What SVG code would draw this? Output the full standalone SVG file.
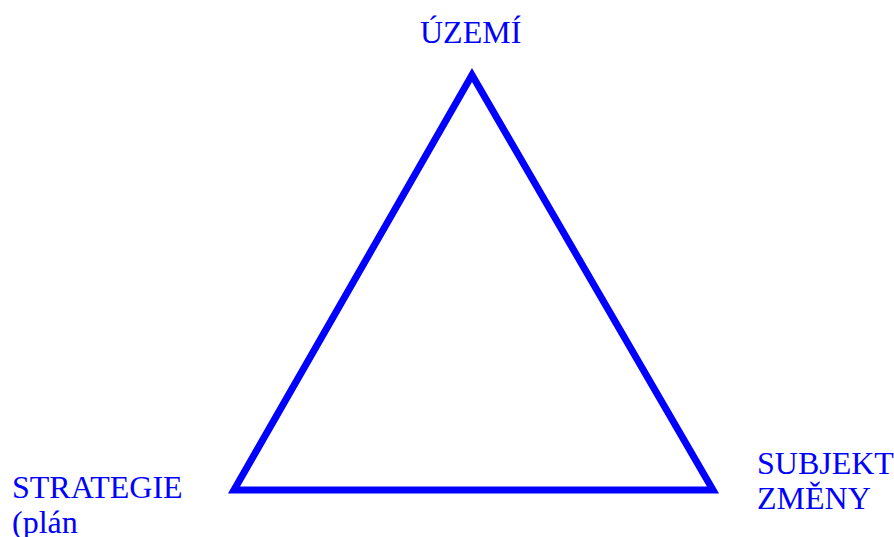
<svg xmlns="http://www.w3.org/2000/svg" width="894" height="537" viewBox="0 0 894 537">
<style>
.lbl{font-family:"Liberation Serif","Times New Roman",serif;font-size:32px;fill:#0000ff}
.edge{fill:none;stroke:#0000ff;stroke-width:7;stroke-linejoin:miter}
</style>
<rect width="894" height="537" fill="#ffffff"/>
<g id="connectors">
<polygon class="edge" points="472,75 234,490 713,490"/>
</g>
<g id="uzemi"><text class="lbl" x="420" y="43">ÚZEMÍ</text></g>
<g id="strategie"><text class="lbl" x="12" y="498">STRATEGIE</text><text class="lbl" x="12" y="533">(plán</text></g>
<g id="subjekt"><text class="lbl" x="757" y="474">SUBJEKT</text><text class="lbl" x="757" y="509">ZMĚNY</text></g>
</svg>
